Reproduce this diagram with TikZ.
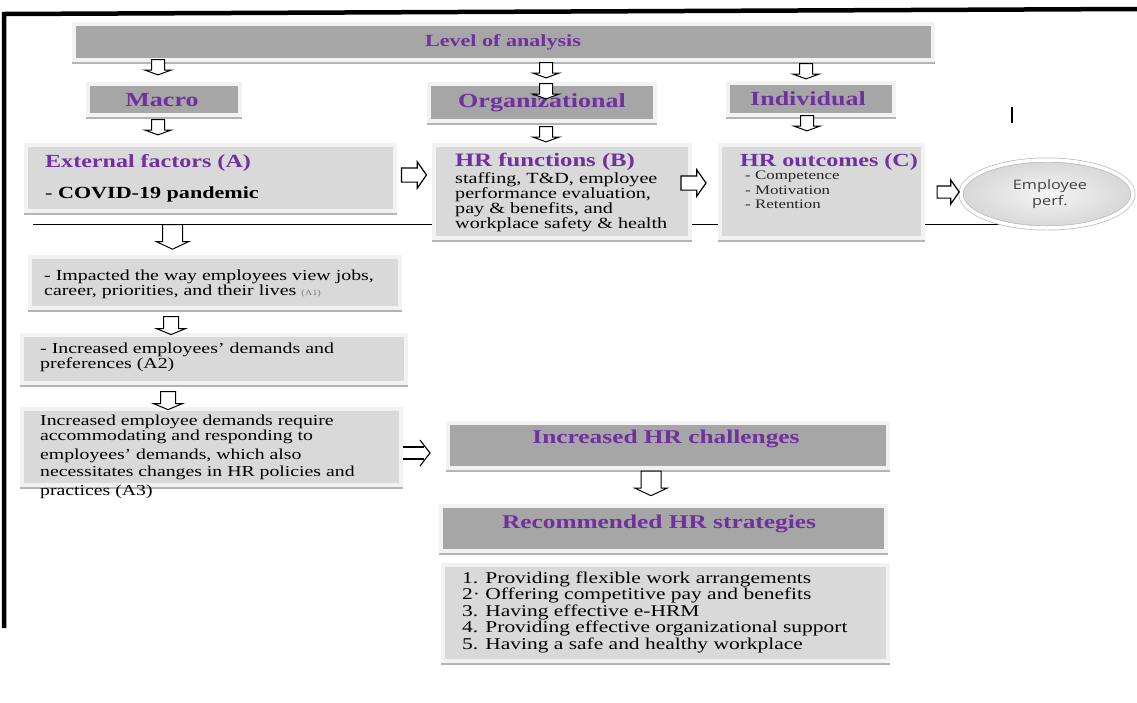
\documentclass[tikz,border=0pt]{standalone}
\usepackage{fontspec}
\setmainfont{Liberation Serif}[FakeStretch=1.3]
\newfontfamily\ellfont{Open Sans}[FakeStretch=1.25]
\usetikzlibrary{shapes.arrows,shapes.geometric}
\definecolor{purp}{HTML}{7030A0}
\definecolor{dkfill}{HTML}{A6A6A6}
\definecolor{ltfill}{HTML}{D9D9D9}
\definecolor{framec}{HTML}{F2F2F2}
\definecolor{shdc}{HTML}{B4B4B4}
\newcommand{\setfs}[2]{\fontsize{#1}{#2}\selectfont}
\tikzset{
  basebox/.style={rectangle, draw=framec, line width=4pt, inner sep=0pt, outer sep=0pt},
  dbox/.style={basebox, fill=dkfill},
  lbox/.style={basebox, fill=ltfill},
  shadowline/.style={shdc, line width=1.6pt},
  head/.style={text=purp, font=\bfseries\setfs{20}{20}, inner sep=0pt, anchor=base},
  body/.style={inner sep=0pt, align=left, anchor=north west},
  blk/.style={single arrow, draw=black, fill=white, line width=1pt, single arrow head indent=0pt},
  dnS/.style={blk, shape border rotate=270, inner sep=6pt, single arrow head extend=6.5pt, minimum height=9pt, single arrow tip angle=140},
  dnM/.style={blk, shape border rotate=270, inner sep=7pt, single arrow head extend=7pt, minimum height=13pt, single arrow tip angle=135},
  dnL/.style={blk, shape border rotate=270, inner sep=9.5pt, single arrow head extend=6pt, minimum height=23pt, single arrow tip angle=130},
  rtA/.style={blk, line width=1.2pt, inner sep=6.5pt, single arrow head extend=6pt, minimum height=25pt, single arrow tip angle=110},
}
\begin{document}
\begin{tikzpicture}[x=1pt,y=-1pt]
\useasboundingbox (0,0) rectangle (1137,702);

% outer frame
\coordinate (fTR) at (1137,9);
\coordinate (fTL) at (4,14);
\coordinate (fBL) at (4,628);
\draw[line width=4.5pt] (fTR) -- (fTL) -- (fBL);
\coordinate (mk1) at (1012,107);
\coordinate (mk2) at (1012,123);
\draw[line width=1.3pt] (mk1) -- (mk2);

\coordinate (hl) at (33,224);

% boxes
\node[dbox, minimum width=859, minimum height=36] (lvl) at (503.5,42) {};
\node[dbox, minimum width=152, minimum height=31] (macro) at (164,99.5) {};
\node[dbox, minimum width=226, minimum height=37] (org) at (542,102.5) {};
\node[dbox, minimum width=166, minimum height=32] (ind) at (811,99) {};

\coordinate (ellc) at (1047,194);
\draw[line width=0.9pt] (hl) -- (hl -| ellc);
\node[ellipse, minimum width=172, minimum height=68, draw=gray!55, line width=0.7pt,
      double=white, double distance=3.5pt, inner color=gray!8, outer color=gray!32] (ell) at (ellc) {};

\node[lbox, minimum width=369, minimum height=66] (ext) at (210.5,178) {};
\node[lbox, minimum width=256, minimum height=93] (hrf) at (562,191.5) {};
\node[lbox, minimum width=203, minimum height=93] (hro) at (821.5,191.5) {};
\node[lbox, minimum width=370, minimum height=51] (a1) at (215,282.5) {};
\node[lbox, minimum width=384, minimum height=48] (a2) at (214,359) {};
\node[lbox, minimum width=379, minimum height=76] (a3) at (211.5,447) {};
\node[dbox, minimum width=440, minimum height=45] (chal) at (668,445.5) {};
\node[dbox, minimum width=445, minimum height=45] (strat) at (663.5,528.5) {};
\node[lbox, minimum width=445, minimum height=96] (list) at (665.5,613) {};

\foreach \b in {lvl,macro,org,ind,ext,hrf,hro,a1,a2,a3,chal,strat,list}
  \draw[shadowline] ([xshift=-2pt,yshift=-2.8pt]\b.south west) -- ([xshift=2pt,yshift=-2.8pt]\b.south east);

% texts
\node[head, font=\bfseries\setfs{17}{17}] (lvlT) at (503,46) {Level of analysis};
\node[head] (macroT) at (162,106) {Macro};
\node[head] (orgT) at (542,107) {Organizational};
\node[head] (indT) at (808,105) {Individual};

\node[head, anchor=base west, font=\bfseries\setfs{18.5}{18.5}] (extT) at (45,167) {External factors (A)};
\node[inner sep=0pt, anchor=base west, font=\setfs{17}{17}] (extB) at (45,198) {- \textbf{COVID-19 pandemic}};

\node[head, anchor=base west, font=\bfseries\setfs{19}{19}] (hrfT) at (455,166) {HR functions (B)};
\node[body, font=\setfs{15.5}{14}] (hrfB) at (455,172) {staffing, T\&D, employee\\performance evaluation,\\pay \& benefits, and\\workplace safety \& health};

\node[head, anchor=base west, font=\bfseries\setfs{18.5}{18.5}] (hroT) at (740,166) {HR outcomes (C)};
\node[body, font=\setfs{13}{14.5}, text=black!85] (hroB) at (745,171) {- Competence\\- Motivation\\- Retention};

\node[inner sep=0pt, align=center, font=\ellfont\setfs{13}{16}, text=black!75] (ellT) at (1050,194) {Employee\\perf.};

\node[body, font=\setfs{15.3}{13.5}] (a1T) at (44,269.5) {- Impacted the way employees view jobs,\\career, priorities, and their lives {\color{gray}\setfs{8}{8}(A1)}};
\node[body, font=\setfs{15.3}{15}] (a2T) at (40,342.5) {- Increased employees' demands and\\preferences (A2)};
\node[body, font=\setfs{15.2}{13}] (a3T) at (40,414.5) {Increased employee demands require\\accommodating and responding to\\[5pt]employees' demands, which also\\[2pt]necessitates changes in HR policies and\\[4pt]practices (A3)};

\node[head, font=\bfseries\setfs{19.5}{19.5}] (chalT) at (666,443) {Increased HR challenges};
\node[head, font=\bfseries\setfs{19.5}{19.5}] (stratT) at (659,528) {Recommended HR strategies};
\node[body, font=\setfs{16.5}{16.5}] (listT) at (462,571.5) {1. Providing flexible work arrangements\\2· Offering competitive pay and benefits\\3. Having effective e-HRM\\4. Providing effective organizational support\\5. Having a safe and healthy workplace};

% block arrows
\node[dnS] (ar1) at (158,66) {};
\node[dnS] (ar2) at (546,69) {};
\node[dnS] (ar3) at (806,70) {};
\node[dnS] (ar4) at (158,126) {};
\node[dnS] (ar5) at (546,90) {};
\node[dnS] (ar6) at (546,133) {};
\node[dnS] (ar7) at (807,122) {};
\node[dnL] (ar8) at (172.5,234.5) {};
\node[dnM] (ar9) at (171,324) {};
\node[dnM] (ar10) at (168,399) {};
\node[dnL, minimum height=18pt] (ar11) at (651,481) {};
\node[rtA] (ar12) at (411.5,175) {};
\node[rtA] (ar13) at (691,183) {};
\node[rtA, inner sep=5.5pt, minimum height=22pt] (ar14) at (946,192) {};

% double arrow (implies)
\coordinate (dA) at (403,447);
\coordinate (dB) at (424,447);
\coordinate (dC) at (403,459);
\coordinate (dD) at (424,459);
\coordinate (dT1) at (420,440);
\coordinate (dT2) at (430,453);
\coordinate (dT3) at (420,466);
\draw[line width=1.1pt] (dA) -- (dB);
\draw[line width=1.1pt] (dC) -- (dD);
\draw[line width=1.1pt] (dT1) -- (dT2) -- (dT3);
\end{tikzpicture}
\end{document}
